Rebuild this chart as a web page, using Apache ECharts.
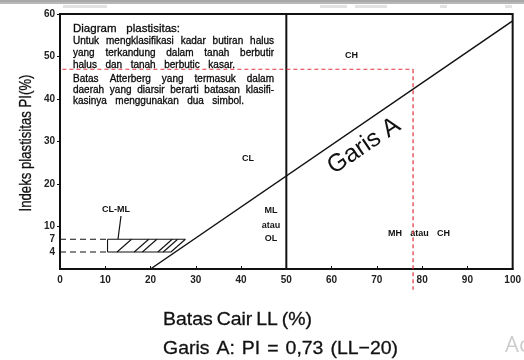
<!DOCTYPE html>
<html><head><meta charset="utf-8">
<script src="https://cdn.jsdelivr.net/npm/echarts@6/dist/echarts.min.js"></script>
<style>html,body{margin:0;padding:0;background:#fff}#c{width:524px;height:360px}</style>
</head><body><div id="c"></div>
<script>
// ---- data ----
const xTickValues = [0,10,20,30,40,50,60,70,80,90,100];
const yTickLabels = [4,7,10,20,30,40,50,60];
const yTickMarks = [10,20,30,40,50,60];
const aLineLL = [20, 100];
const aLinePI = [0, 58.4];
const boundaryLL = [50, 50];
const boundaryPI = [0, 60];
const clmlPI = [4, 7];
const clmlDashEndLL = 10.5;
const bandLeftLL = 10.5;
const bandTopEndLL = 27.7;
const bandBottomEndLL = 24.5;
const hatchBottomLL = [12.6, 16.4, 18.2, 21.6, 22.8, 24.5];
const hatchShiftLL = 3.2;
const redLL = 78;
const redPI = 47;
const redStartLL = -10.3;
const redEndPI = -4.9;

const FONT = '"Liberation Sans", Arial, sans-serif';
const chart = echarts.init(document.getElementById('c'));
const ctx = document.createElement('canvas').getContext('2d');

function measure(text, size, family, weight) {
  ctx.font = (weight || 'normal') + ' ' + size + 'px ' + family;
  return ctx.measureText(text).width;
}
function justify(text, x, y, width, size, opts) {
  opts = opts || {};
  const fam = opts.family || FONT;
  const sx = opts.scaleX || 1;
  const words = text.split(' ');
  const ws = words.map(w => measure(w, size, fam, opts.weight) * sx);
  const tot = ws.reduce((a,b)=>a+b,0);
  const gap = words.length > 1 ? Math.max(2, (width - tot) / (words.length - 1)) : 0;
  let cx = x; const out = [];
  words.forEach((w,i) => {
    const st = {text:w, fontSize:size, fontFamily:fam, fontWeight:opts.weight||'normal', fill:opts.fill||'#111', verticalAlign:'middle', align:'left'};
    if (opts.bold) { st.stroke = opts.fill || '#111'; st.lineWidth = opts.bold; }
    out.push({type:'text', x:cx, y:y, z:50, scaleX:sx, silent:true, style:st});
    cx += ws[i] + gap;
  });
  return out;
}
function seg(data, extra) {
  return Object.assign({type:'line', data:data, symbol:'none', silent:true, animation:false, z:3,
    lineStyle:{color:'#111', width:1.3}}, extra || {});
}

const series = [];
series.push(seg(aLineLL.map((v,i)=>[v, aLinePI[i]]), {lineStyle:{color:'#111', width:1.5}}));
series.push(seg(boundaryLL.map((v,i)=>[v, boundaryPI[i]]), {lineStyle:{color:'#111', width:2}}));
clmlPI.forEach(p => series.push(seg([[0,p],[clmlDashEndLL,p]], {lineStyle:{color:'#111', width:1.1, type:[6,4]}})));
series.push(seg([[bandLeftLL, clmlPI[1]],[bandTopEndLL, clmlPI[1]]], {lineStyle:{color:'#111', width:1.1}}));
series.push(seg([[bandLeftLL, clmlPI[0]],[bandBottomEndLL, clmlPI[0]]], {lineStyle:{color:'#111', width:1.1}}));
series.push(seg([[bandLeftLL, clmlPI[0]],[bandLeftLL, clmlPI[1]]], {lineStyle:{color:'#111', width:1.1}}));
hatchBottomLL.forEach(b => series.push(seg([[b, clmlPI[0]],[b + hatchShiftLL, clmlPI[1]]], {lineStyle:{color:'#111', width:1.1}})));
series.push(seg([[redStartLL, redPI],[redLL, redPI]], {clip:false, z:60, lineStyle:{color:'#e2343f', width:1.2, type:[4,3]}}));
series.push(seg([[redLL, redPI],[redLL, redEndPI]], {clip:false, z:60, lineStyle:{color:'#e2343f', width:1.2, type:[4,3]}}));

// ---- text ----
const graphic = [];
graphic.push({type:'rect', shape:{x:0,y:0,width:524,height:2}, style:{fill:'#a8a8a8'}, silent:true});
graphic.push({type:'line', shape:{x1:0,y1:3,x2:524,y2:3}, style:{stroke:'#707070', lineWidth:1}, silent:true});
[[63,107],[320,347],[355,387],[440,447],[505,512]].forEach(s => graphic.push({type:'rect', shape:{x:s[0],y:5,width:s[1]-s[0],height:3}, style:{fill:'#e2e2e2'}, silent:true}));

const para = [
  ['Diagram plastisitas:', 29, 107, 11.5],
  ['Untuk mengklasifikasi kadar butiran halus', 41, 201, 10],
  ['yang terkandung dalam tanah berbutir', 53, 201, 10],
  ['halus dan tanah berbutic kasar.', 65, 162, 10],
  ['Batas Atterberg yang termasuk dalam', 79, 201, 10],
  ['daerah yang diarsir berarti batasan klasifi-', 90, 201, 10],
  ['kasinya menggunakan dua simbol.', 101, 171, 10]
];
para.forEach(l => graphic.push(...justify(l[0], 73, l[1], l[2], l[3], {fill:'#0a0a0a', bold:0.3})));

const lab = {weight:'bold'};
graphic.push(...justify('CH', 345, 56, 17, 9, lab));
graphic.push(...justify('CL', 242, 159, 13, 9, lab));
graphic.push(...justify('CL-ML', 102, 210, 31, 9, lab));
graphic.push({type:'line', shape:{x1:121,y1:216,x2:118,y2:239}, style:{stroke:'#111', lineWidth:1.2}, silent:true});
['ML','atau','OL'].forEach((t,i) => graphic.push({type:'text', x:271, y:[211,226,239][i], silent:true,
  style:{text:t, fontSize:9, fontWeight:'bold', fontFamily:FONT, fill:'#151515', align:'center', verticalAlign:'middle'}}));
graphic.push(...justify('MH atau CH', 388, 234, 62, 9, lab));

// rotated labels
function fit(text, target, family, size) { return target / measure(text, size, family); }
const garis = 'Garis A';
graphic.push({type:'text', x:364, y:146, rotation:34*Math.PI/180, silent:true,
  style:{text:garis, fontSize:82 / measure(garis, 1, FONT), fontFamily:FONT, fill:'#111', align:'center', verticalAlign:'middle'}});
const yTitle = 'Indeks plastisitas PI(%)';
graphic.push({type:'text', x:26, y:143, rotation:Math.PI/2, scaleX:fit(yTitle, 137, FONT, 17), silent:true,
  style:{text:yTitle, fontSize:17, fontFamily:FONT, fill:'#111', stroke:'#111', lineWidth:0.3, align:'center', verticalAlign:'middle'}});
const xTitle = 'Batas Cair LL (%)';
const tSize = 19, tScale = fit(xTitle, 149, FONT, tSize) * 1.03;
graphic.push(...justify(xTitle, 163, 320, 149, tSize, {fill:'#111', scaleX:tScale, bold:0.3}));
graphic.push(...justify('Garis A: PI = 0,73 (LL\u221220)', 163, 349, 235, tSize, {fill:'#111', scaleX:tScale, bold:0.3}));
graphic.push({type:'text', x:505, y:346, silent:true, style:{text:'Ac', fontSize:22, fontFamily:'"Open Sans", sans-serif', fill:'#cdcdcd', verticalAlign:'middle'}});

chart.setOption({
  animation:false,
  grid:{left:60, right:6, top:14, bottom:91, show:true, borderColor:'#111', borderWidth:2, backgroundColor:'transparent'},
  xAxis:{type:'value', min:0, max:100, interval:10,
    axisLine:{show:true, onZero:false, lineStyle:{color:'#111', width:2}},
    axisTick:{show:true, inside:true, length:3, lineStyle:{color:'#111'}},
    axisLabel:{fontSize:10, fontWeight:'bold', color:'#222', margin:6, fontFamily:FONT, customValues:xTickValues},
    splitLine:{show:false}},
  yAxis:{type:'value', min:0, max:60, interval:10,
    axisLine:{show:true, onZero:false, lineStyle:{color:'#111', width:2}},
    axisTick:{show:true, length:3, customValues:yTickMarks, lineStyle:{color:'#111'}},
    axisLabel:{fontSize:10, fontWeight:'bold', color:'#222', margin:5, fontFamily:FONT, customValues:yTickLabels},
    splitLine:{show:false}},
  series:series,
  graphic:graphic
});
</script></body></html>
